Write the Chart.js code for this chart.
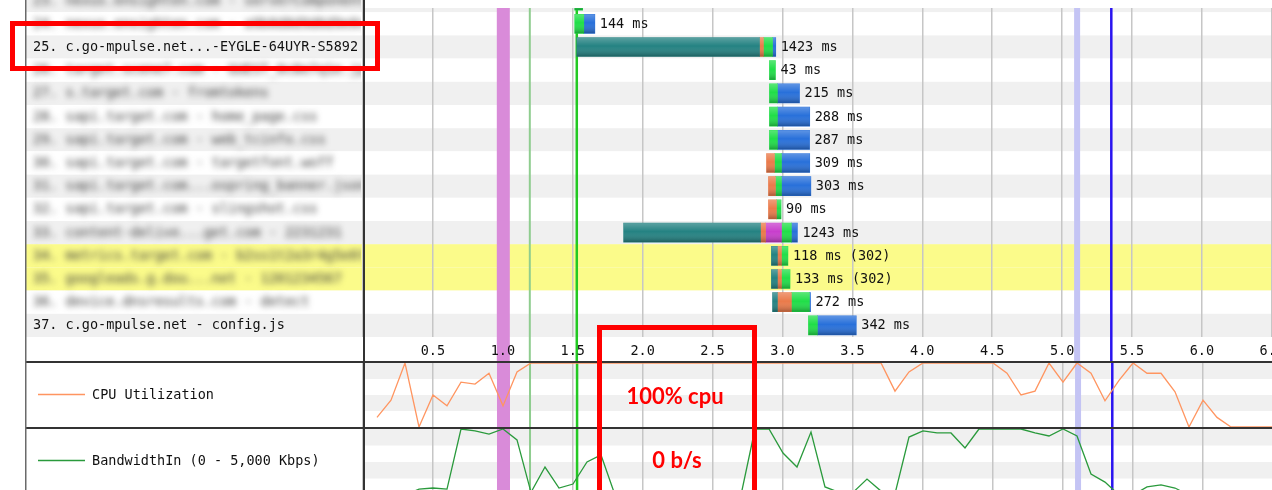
<!DOCTYPE html>
<html><head><meta charset="utf-8">
<script src="https://cdn.jsdelivr.net/npm/chart.js@4.4.1/dist/chart.umd.min.js"></script>
<style>
html,body{margin:0;padding:0;background:#fff;overflow:hidden;width:1272px;height:490px;position:relative;}
.wrap{position:absolute;left:0;width:1290px;}
#wA{top:-11px;height:372px;}
#wB{top:361px;height:66px;}
#wC{top:427px;height:68px;}
.box{position:absolute;border:5px solid #ff0000;box-sizing:border-box;}
.note{position:absolute;color:#ff0000;font:700 22px Lato,"Open Sans",sans-serif;transform:translate(-50%,-50%);white-space:nowrap;}
</style></head><body>
<div class="wrap" id="wA"><canvas id="cA"></canvas></div>
<div class="wrap" id="wB"><canvas id="cB"></canvas></div>
<div class="wrap" id="wC"><canvas id="cC"></canvas></div>
<div class="box" style="left:10px;top:21px;width:370px;height:50px;"></div>
<div class="box" style="left:597px;top:325px;width:160px;height:200px;"></div>
<div class="note" style="left:675px;top:395px;">100% cpu</div>
<div class="note" style="left:677px;top:459px;">0 b/s</div>
<script>
// ---------- data ----------
const rowLabels = [
 '23. nexus.ensighten.com - serverComponent.php',
 '24. nexus.ensighten.com - a9b0d8d9d6d9e0c.js',
 '25. c.go-mpulse.net...-EYGLE-64UYR-S5892',
 '26. target.scene7.com - GUEST_0c8e7q1e.jpg',
 '27. s.target.com - fromtokens',
 '28. sapi.target.com - home_page.css',
 '29. sapi.target.com - web_tcinfo.css',
 '30. sapi.target.com - targetfont.woff',
 '31. sapi.target.com...ospring_banner.json',
 '32. sapi.target.com - slingshot.css',
 '33. content-delive...get.com - 2231231',
 '34. metrics.target.com - b2ss1t2a3r4g5e6t',
 '35. googleads.g.dou...net - 1201234567',
 '36. device.dnsresults.com - detect',
 '37. c.go-mpulse.net - config.js'
];
const blurredRows     = [1,1,0,1,1,1,1,1,1,1,1,1,1,1,0];
const highlightedRows = [0,0,0,0,0,0,0,0,0,0,0,1,1,0,0];
const durationLabels = ['', '144 ms', '1423 ms', '43 ms', '215 ms', '288 ms', '287 ms', '309 ms',
  '303 ms', '90 ms', '1243 ms', '118 ms (302)', '133 ms (302)', '272 ms', '342 ms'];

// request phases, seconds [start, end]
const dnsTimes = [null, null, [1.529,2.836], null, null, null, null, null, null, null,
  [1.864,2.843], [2.921,2.964], [2.921,2.964], [2.929,2.964], null];
const connectTimes = [null, null, [2.836,2.864], null, null, null, null, [2.886,2.943], [2.900,2.950], [2.900,2.957],
  [2.843,2.879], [2.964,2.993], [2.964,2.993], [2.964,3.064], null];
const sslTimes = [null, null, null, null, null, null, null, null, null, null,
  [2.879,2.993], null, null, null, null];
const ttfbTimes = [[1.514,1.571], [1.514,1.579], [2.864,2.929], [2.907,2.950], [2.907,2.964], [2.907,2.964], [2.907,2.964], [2.943,2.993], [2.950,2.993], [2.957,2.990],
  [2.993,3.064], [2.993,3.039], [2.993,3.054], [3.064,3.193], [3.186,3.250]];
const downloadTimes = [null, [1.579,1.658], [2.929,2.952], null, [2.964,3.122], [2.964,3.195], [2.964,3.194], [2.993,3.195], [2.993,3.203], null,
  [3.064,3.107], null, null, [3.193,3.201], [3.250,3.528]];

// page events (seconds)
const eventMarkers = [
  {from:0.957, to:1.050, color:'#d98bd9'},
  {at:1.193, width:2, color:'#8fcd8f'},
  {at:1.529, width:2.5, color:'#22c922'},
  {from:5.086, to:5.129, color:'#c4c4f4'},
  {at:5.352, width:2.5, color:'#2a14f0'}
];

const sampleTimes = [0.1,0.2,0.3,0.4,0.5,0.6,0.7,0.8,0.9,1.0,1.1,1.2,1.3,1.4,1.5,1.6,1.7,1.8,1.9,2.0,
  2.1,2.2,2.3,2.4,2.5,2.6,2.7,2.8,2.9,3.0,3.1,3.2,3.3,3.4,3.5,3.6,3.7,3.8,3.9,4.0,
  4.1,4.2,4.3,4.4,4.5,4.6,4.7,4.8,4.9,5.0,5.1,5.2,5.3,5.4,5.5,5.6,5.7,5.8,5.9,6.0,
  6.1,6.2,6.3,6.4,6.5];
const cpuValues = [15,42,100,0,50,33,70,67,84,33,86,100,100,100,100,100,100,100,100,100,
  100,100,100,100,100,100,100,100,100,100,100,100,100,100,100,100,100,56,86,100,
  100,100,100,100,100,84,50,56,100,70,100,84,41,73,100,84,84,55,0,42,
  15,0,0,0,0];
const bandwidthValues = [0,0,0,450,530,450,5000,4850,4620,5000,4170,200,2120,530,830,2500,3030,0,0,0,
  0,0,0,0,0,0,0,5000,5000,3180,2120,4770,610,200,200,1210,300,100,4390,4850,
  4700,4700,3560,5000,5000,5000,5000,4700,4470,5000,4470,1590,980,0,0,610,760,530,0,0,
  0,0,0,0,0];
const xTickStep = 0.5;

// ---------- style ----------
const FONT = '13.5px "DejaVu Sans Mono"';
const GREY = '#f0f0f0', YELLOW = '#fbfb8a';
const GRID = '#c6c6c6';
const X_MIN = 0, X_MAX = 6.5;
const PX_TOP = 19; // canvas A offset for page y=8

function drawMarkers(chart, y0, y1){
  const ctx = chart.ctx, xs = chart.scales.x;
  ctx.save();
  eventMarkers.forEach(m => {
    ctx.fillStyle = m.color;
    if (m.from !== undefined) {
      const a = xs.getPixelForValue(m.from), b = xs.getPixelForValue(m.to);
      ctx.fillRect(a, y0, b - a, y1 - y0);
    } else {
      const c = xs.getPixelForValue(m.at);
      ctx.fillRect(c - m.width/2, y0, m.width, y1 - y0);
    }
  });
  ctx.restore();
}
function drawDividers(chart){
  const ctx = chart.ctx;
  ctx.save();
  ctx.fillStyle = '#6a6a6a'; ctx.fillRect(25, 0, 1.5, chart.height);
  ctx.fillStyle = '#333'; ctx.fillRect(363, 0, 2, chart.height);
  ctx.restore();
}

const waterfallPlugin = {
  id: 'waterfall',
  beforeDraw(chart){
    const ctx = chart.ctx, ys = chart.scales.y, area = chart.chartArea;
    const rowH = area.height / rowLabels.length;
    ctx.save();
    rowLabels.forEach((lab, i) => {
      const yc = ys.getPixelForValue(i);
      const top = yc - rowH/2;
      ctx.fillStyle = highlightedRows[i] ? YELLOW : (i % 2 === 0 ? GREY : '#ffffff');
      ctx.fillRect(25, top, chart.width, rowH);
    });
    ctx.beginPath(); ctx.rect(27, 0, 334, area.bottom); ctx.clip();
    ctx.font = FONT; ctx.textBaseline = 'middle'; ctx.textAlign = 'left';
    rowLabels.forEach((lab, i) => {
      const yc = ys.getPixelForValue(i);
      ctx.save();
      if (blurredRows[i]) { ctx.filter = 'blur(3px)'; ctx.fillStyle = '#3a3a3a'; } else { ctx.fillStyle = '#111'; }
      ctx.fillText(lab, 33, yc + 0.5);
      ctx.restore();
    });
    ctx.restore();
  },
  beforeDatasetsDraw(chart){ drawMarkers(chart, PX_TOP, chart.height); },
  afterDatasetsDraw(chart){
    const ctx = chart.ctx, xs = chart.scales.x, ys = chart.scales.y;
    ctx.save();
    chart.data.datasets.forEach((ds, di) => {
      const meta = chart.getDatasetMeta(di);
      meta.data.forEach((el, i) => {
        if (!ds.data[i]) return;
        const p = el.getProps(['x','y','base','height'], true);
        const l = Math.min(p.x, p.base), w = Math.abs(p.x - p.base), t = p.y - p.height/2;
        const g = ctx.createLinearGradient(0, t, 0, t + p.height);
        g.addColorStop(0, 'rgba(255,255,255,0.25)');
        g.addColorStop(0.45, 'rgba(255,255,255,0)');
        g.addColorStop(1, 'rgba(0,0,0,0.28)');
        ctx.fillStyle = g; ctx.fillRect(l, t, w, p.height);
      });
    });
    ctx.font = FONT; ctx.fillStyle = '#111'; ctx.textBaseline = 'middle'; ctx.textAlign = 'left';
    durationLabels.forEach((txt, i) => {
      if (!txt) return;
      let end = 0;
      [dnsTimes, connectTimes, sslTimes, ttfbTimes, downloadTimes].forEach(arr => { if (arr[i]) end = Math.max(end, arr[i][1]); });
      ctx.fillText(txt, xs.getPixelForValue(end) + 5, ys.getPixelForValue(i) + 0.5);
    });
    ctx.restore();
  },
  afterDraw(chart){
    const ctx = chart.ctx;
    ctx.save(); ctx.fillStyle = '#fff'; ctx.fillRect(365, 0, chart.width, PX_TOP); ctx.restore();
    drawDividers(chart);
  }
};

function panelPlugin(legendText, legendColor){
  return {
    id: 'panel',
    beforeDraw(chart){
      const ctx = chart.ctx, a = chart.chartArea, h = a.height / 4;
      ctx.save(); ctx.fillStyle = GREY;
      ctx.fillRect(a.left, a.top, chart.width, h);
      ctx.fillRect(a.left, a.top + 2*h, chart.width, h);
      ctx.restore();
    },
    beforeDatasetsDraw(chart){ drawMarkers(chart, 0, chart.height); },
    afterDraw(chart){
      const ctx = chart.ctx;
      ctx.save();
      ctx.fillStyle = '#333'; ctx.fillRect(25, 0, chart.width, 2);
      ctx.strokeStyle = legendColor; ctx.lineWidth = 1.5;
      ctx.beginPath(); ctx.moveTo(38, 33.5); ctx.lineTo(85, 33.5); ctx.stroke();
      ctx.font = FONT; ctx.fillStyle = '#111'; ctx.textBaseline = 'middle'; ctx.textAlign = 'left';
      ctx.fillText(legendText, 92, 34.5);
      ctx.restore();
      drawDividers(chart);
    }
  };
}

const baseX = {
  type: 'linear', min: X_MIN, max: X_MAX,
  grid: { color: GRID, lineWidth: 1.5, drawTicks: false },
  border: { display: false }
};
const common = { responsive: true, maintainAspectRatio: false, animation: false, events: [],
  plugins: { legend: { display: false }, tooltip: { enabled: false } } };

function barDs(data, color){ return { data, backgroundColor: color, grouped: false, barThickness: 19, borderWidth: 0, borderSkipped: false }; }

new Chart(document.getElementById('cA'), {
  type: 'bar',
  data: { labels: rowLabels, datasets: [
    barDs(dnsTimes, 'rgb(36,130,130)'),
    barDs(connectTimes, 'rgb(234,122,74)'),
    barDs(sslTimes, 'rgb(200,62,204)'),
    barDs(ttfbTimes, 'rgb(32,222,72)'),
    barDs(downloadTimes, 'rgb(40,112,218)')
  ]},
  options: Object.assign({}, common, {
    indexAxis: 'y',
    layout: { padding: { left: 363, right: 17, top: 0, bottom: 0 } },
    scales: {
      x: Object.assign({}, baseX, {
        position: 'bottom',
        ticks: { stepSize: xTickStep, autoSkip: false, maxRotation: 0, padding: 6, z: 1,
          color: '#111', font: { family: 'DejaVu Sans Mono', size: 13.5 },
          callback: v => v === 0 ? '' : Number(v).toFixed(1) },
        afterFit: s => { s.height = 24; }
      }),
      y: { type: 'category', display: false, offset: true }
    }
  }),
  plugins: [waterfallPlugin]
});

function lineChart(id, values, yMax, color, legend){
  new Chart(document.getElementById(id), {
    type: 'line',
    data: { datasets: [{ data: sampleTimes.map((t, i) => ({ x: t, y: values[i] })),
      borderColor: color, borderWidth: 1.3, pointRadius: 0, tension: 0, clip: 2, fill: false }] },
    options: Object.assign({}, common, {
      layout: { padding: { left: 363, right: 17, top: 2, bottom: 0 } },
      scales: {
        x: Object.assign({}, baseX, { ticks: { display: false, stepSize: xTickStep }, afterFit: s => { s.height = 0; } }),
        y: { display: false, min: 0, max: yMax }
      }
    }),
    plugins: [panelPlugin(legend, color)]
  });
}
lineChart('cB', cpuValues, 100, '#ff9560', 'CPU Utilization');
lineChart('cC', bandwidthValues, 5000, '#2a9a3c', 'BandwidthIn (0 - 5,000 Kbps)');
</script>
</body></html>
